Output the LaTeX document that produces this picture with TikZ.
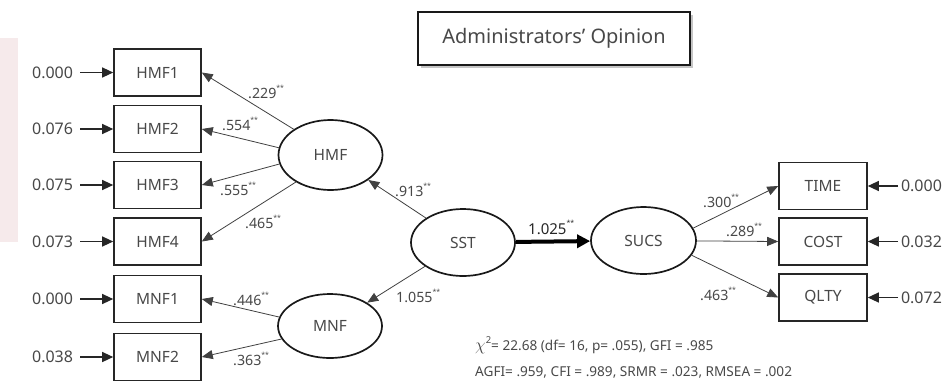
\documentclass[tikz,border=0pt]{standalone}
\usepackage{fontspec}
\setmainfont{Noto Sans}
\usetikzlibrary{arrows.meta,shapes.geometric,shadows}
\definecolor{txt}{HTML}{484848}
\definecolor{ln}{HTML}{404040}
\definecolor{wm}{RGB}{246,234,235}
\newcommand{\sg}{\raisebox{0.55em}{\fontsize{7}{7}\selectfont **}}
\begin{document}
\begin{tikzpicture}[x=1pt,y=-1pt,
  obs/.style={draw=black!85, line width=1.6pt, minimum width=87pt, minimum height=47pt,
    inner sep=0pt, font=\fontsize{15.5}{17}\selectfont, text=txt},
  lat/.style={ellipse, draw=black!90, line width=1.7pt, minimum width=104pt, minimum height=68pt,
    inner sep=0pt, font=\fontsize{15.5}{17}\selectfont, text=txt},
  pth/.style={draw=ln, line width=0.8pt, -{Triangle[length=11pt,width=9pt]}},
  err/.style={draw=black!85, line width=1.2pt, -{Triangle[length=11pt,width=10pt]}},
  coef/.style={anchor=base west, inner sep=0pt, text=txt, font=\fontsize{14.2}{16}\selectfont},
  lerr/.style={anchor=east, inner sep=0pt, outer xsep=7pt, text=txt, font=\fontsize{16}{18}\selectfont},
  rerr/.style={anchor=west, inner sep=0pt, outer xsep=3pt, text=txt, font=\fontsize{16}{18}\selectfont},
  fit/.style={anchor=base west, inner sep=0pt, text=txt, font=\fontsize{13.6}{15}\selectfont}
]
\useasboundingbox (0,0) rectangle (949,381);
\fill[wm] (0,38) rectangle (18,242);

% title
\node[draw=black!90, line width=1.8pt, fill=white, minimum width=272pt, minimum height=53pt,
  drop shadow={shadow xshift=2.5pt, shadow yshift=-3pt, fill=black!45},
  text=txt, font=\fontsize{20}{22}\selectfont] (title) at (554,38.5) {Administrators’ Opinion};

% observed boxes
\node[obs] (HMF1) at (157.5,72.5) {HMF1};
\node[obs] (HMF2) at (157.5,129) {HMF2};
\node[obs] (HMF3) at (157.5,185) {HMF3};
\node[obs] (HMF4) at (157.5,241.5) {HMF4};
\node[obs] (MNF1) at (157.5,299) {MNF1};
\node[obs] (MNF2) at (157.5,357) {MNF2};
\node[obs, minimum width=88pt] (TIME) at (823,186) {TIME};
\node[obs, minimum width=88pt] (COST) at (823,241.5) {COST};
\node[obs, minimum width=88pt] (QLTY) at (823,297.5) {QLTY};

% latent
\node[lat, minimum height=70pt] (HMF) at (330.5,155) {HMF};
\node[lat, minimum height=64pt] (MNF) at (330,326) {MNF};
\node[lat, minimum height=67pt] (SST) at (463,242.5) {SST};
\node[lat, minimum height=67pt, minimum width=105pt] (SUCS) at (643.5,240.5) {SUCS};

% error terms
\node[lerr] (e1) at (80,72.5) {0.000};
\node[lerr] (e2) at (80,129) {0.076};
\node[lerr] (e3) at (80,185) {0.075};
\node[lerr] (e4) at (80,241.5) {0.073};
\node[lerr] (e5) at (80,299) {0.000};
\node[lerr] (e6) at (80,357) {0.038};
\node[rerr] (r1) at (898,186) {0.000};
\node[rerr] (r2) at (898,241.5) {0.032};
\node[rerr] (r3) at (898,297.5) {0.072};

\draw[err] (e1) -- (HMF1);
\draw[err] (e2) -- (HMF2);
\draw[err] (e3) -- (HMF3);
\draw[err] (e4) -- (HMF4);
\draw[err] (e5) -- (MNF1);
\draw[err] (e6) -- (MNF2);
\draw[err] (r1) -- (TIME);
\draw[err] (r2) -- (COST);
\draw[err] (r3) -- (QLTY);

% paths
\draw[pth] (HMF.145) -- (HMF1.east);
\draw[pth] (HMF.172) -- (HMF2.east);
\draw[pth] (HMF.190) -- (HMF3.east);
\draw[pth] (HMF.218) -- (HMF4.east);
\draw[pth] (MNF.170) -- (MNF1.east);
\draw[pth] (MNF.195) -- (MNF2.east);
\draw[pth] (SST) -- (HMF);
\draw[pth] (SST) -- (MNF);
\draw[draw=black, line width=4pt, -{Triangle[length=13pt,width=13pt]}] (SST) -- (SUCS);
\draw[pth] (SUCS.14) -- (TIME.west);
\draw[pth] (SUCS) -- (COST.west);
\draw[pth] (SUCS.-17) -- (QLTY.west);

% coefficients
\node[coef] (c1) at (248,98) {.229\sg};
\node[coef] (c2) at (222,130) {.554\sg};
\node[coef] (c3) at (220,195) {.555\sg};
\node[coef] (c4) at (245,228) {.465\sg};
\node[coef] (c5) at (233,305) {.446\sg};
\node[coef] (c6) at (233,365) {.363\sg};
\node[coef] (c7) at (395,196) {.913\sg};
\node[coef] (c8) at (396,302) {1.055\sg};
\node[coef, font=\fontsize{15}{17}\selectfont\bfseries, text=black!85] (c9) at (528,234) {1.025\sg};
\node[coef] (c10) at (703,207) {.300\sg};
\node[coef] (c11) at (726,236) {.289\sg};
\node[coef] (c12) at (700,300) {.463\sg};

% fit indices
\node[fit] (f1) at (475,350) {{\fontsize{19}{19}\selectfont$\chi$}\raisebox{0.45em}{\fontsize{9.5}{9.5}\selectfont 2}= 22.68 (df= 16, p= .055), GFI = .985};
\node[fit] (f2) at (475,376) {AGFI= .959, CFI = .989, SRMR = .023, RMSEA = .002};
\end{tikzpicture}
\end{document}
